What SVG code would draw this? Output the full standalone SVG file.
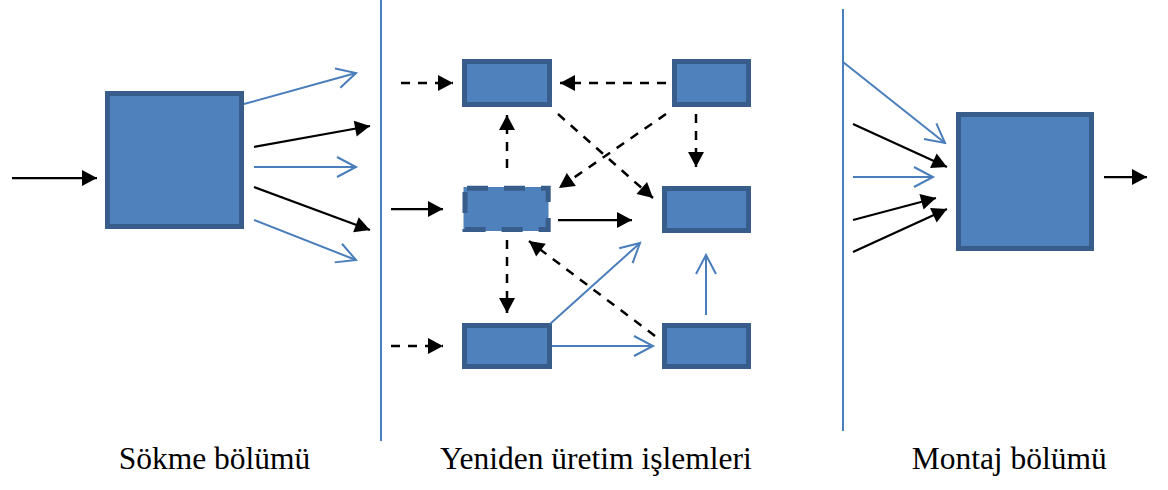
<svg xmlns="http://www.w3.org/2000/svg" width="1168" height="490" viewBox="0 0 1168 490">
  <style>
    .box { fill: #4F81BD; stroke: #385D8A; stroke-width: 5; }
    .box-fill { fill: #4F81BD; stroke: none; }
    .box-dashed { fill: none; stroke: #385D8A; stroke-width: 5; stroke-dasharray: 21 16; stroke-dashoffset: 35; }
    .divider { stroke: #4A7EBB; stroke-width: 2; fill: none; }
    .flow-blue { stroke: #4A7EBB; stroke-width: 2; fill: none; marker-end: url(#open-blue); }
    .flow-black { stroke: #000; stroke-width: 2.25; fill: none; marker-end: url(#solid-black); }
    .flow-dash { stroke: #000; stroke-width: 2.5; fill: none; stroke-dasharray: 9 8; marker-end: url(#solid-black); }
    .label { font-family: "Liberation Serif", "Times New Roman", serif; font-size: 31.5px; fill: #000; text-anchor: middle; }
  </style>
  <defs>
    <marker id="solid-black" markerUnits="userSpaceOnUse" markerWidth="16" markerHeight="16" refX="15" refY="8" orient="auto" overflow="visible">
      <path d="M0,0 L15,8 L0,16 z" fill="#000" stroke="none"/>
    </marker>
    <marker id="open-blue" markerUnits="userSpaceOnUse" markerWidth="22" markerHeight="22" refX="20" refY="10" orient="auto" overflow="visible">
      <path d="M1,0 L20,10 L1,20" fill="none" stroke="#4A7EBB" stroke-width="2"/>
    </marker>
  </defs>

  <rect width="1168" height="490" fill="#fff"/>

  <!-- section dividers -->
  <line class="divider" x1="381" y1="0" x2="381" y2="441"/>
  <line class="divider" x1="843" y1="9" x2="843" y2="431"/>

  <!-- nodes -->
  <g id="disassembly">
    <rect class="box" x="107.5" y="93.5" width="134" height="133"/>
  </g>
  <g id="process-top-left">
    <rect class="box" x="464.5" y="61.5" width="85" height="43"/>
  </g>
  <g id="process-top-right">
    <rect class="box" x="674.5" y="61.5" width="74" height="43"/>
  </g>
  <g id="process-middle-left">
    <rect class="box-fill" x="463.5" y="187" width="85" height="44"/>
    <rect class="box-dashed" x="465" y="188.3" width="83.2" height="41.2"/>
  </g>
  <g id="process-middle-right">
    <rect class="box" x="664.5" y="188.5" width="84" height="42"/>
  </g>
  <g id="process-bottom-left">
    <rect class="box" x="464.5" y="325.5" width="85" height="41"/>
  </g>
  <g id="process-bottom-right">
    <rect class="box" x="664.5" y="325.5" width="84" height="41"/>
  </g>
  <g id="assembly">
    <rect class="box" x="958.5" y="114.5" width="133" height="134"/>
  </g>

  <!-- connectors -->
  <g id="connectors">
    <!-- disassembly -->
    <line class="flow-black" x1="12" y1="178" x2="97" y2="178"/>
    <line class="flow-blue" x1="244" y1="104" x2="356" y2="73"/>
    <line class="flow-black" x1="254" y1="147" x2="370" y2="126"/>
    <line class="flow-blue" x1="254" y1="167" x2="356" y2="167"/>
    <line class="flow-black" x1="254" y1="187" x2="370" y2="230"/>
    <line class="flow-blue" x1="254" y1="220" x2="356" y2="260"/>

    <!-- remanufacturing -->
    <line class="flow-dash" x1="401" y1="83" x2="453" y2="83"/>
    <line class="flow-dash" x1="666" y1="83" x2="560" y2="83"/>
    <line class="flow-dash" x1="696" y1="114" x2="696" y2="167"/>
    <line class="flow-dash" x1="558" y1="114" x2="653" y2="198"/>
    <line class="flow-dash" x1="666" y1="114" x2="559" y2="188"/>
    <line class="flow-dash" x1="507" y1="168" x2="507" y2="115"/>
    <line class="flow-black" x1="391" y1="209" x2="443" y2="209"/>
    <line class="flow-black" x1="558" y1="220" x2="632" y2="220"/>
    <line class="flow-dash" x1="507" y1="240" x2="507" y2="313"/>
    <line class="flow-dash" x1="655" y1="336" x2="529" y2="241"/>
    <line class="flow-dash" x1="391" y1="346" x2="443" y2="346"/>
    <line class="flow-blue" x1="550" y1="324" x2="640" y2="243"/>
    <line class="flow-blue" x1="552" y1="346" x2="653" y2="346"/>
    <line class="flow-blue" x1="706" y1="315" x2="706" y2="255"/>

    <!-- assembly -->
    <line class="flow-blue" x1="843" y1="62" x2="945" y2="143"/>
    <line class="flow-black" x1="853" y1="124" x2="947" y2="167"/>
    <line class="flow-blue" x1="853" y1="177" x2="933" y2="177"/>
    <line class="flow-black" x1="853" y1="220" x2="936" y2="198"/>
    <line class="flow-black" x1="853" y1="252" x2="947" y2="209"/>
    <line class="flow-black" x1="1104" y1="177" x2="1147" y2="177"/>
  </g>

  <!-- section labels -->
  <text class="label" x="214.5" y="469">Sökme bölümü</text>
  <text class="label" x="595.8" y="469">Yeniden üretim işlemleri</text>
  <text class="label" x="1009.2" y="469">Montaj bölümü</text>
</svg>
